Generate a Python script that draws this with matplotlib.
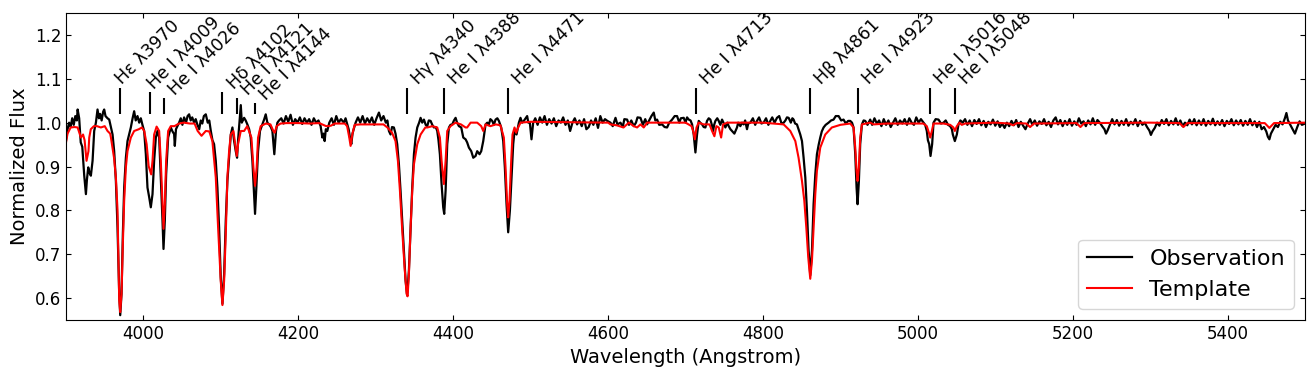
import numpy as np
import matplotlib
matplotlib.use("Agg")
import matplotlib.pyplot as plt

observation = [
    (3900, 0.960), (3902, 0.985), (3904, 1.000), (3906, 0.990), (3908, 1.010), (3910, 0.995),
    (3912, 1.015), (3914, 1.005), (3915, 1.030), (3917, 1.010), (3919, 0.955), (3921, 0.945),
    (3923.5, 0.880), (3925.7, 0.837), (3927, 0.870), (3928.7, 0.898), (3930.5, 0.885), (3932.1, 0.879),
    (3934.3, 0.913), (3936.4, 0.981), (3938.6, 1.000), (3940.7, 1.030), (3942.5, 1.010), (3944, 1.020),
    (3946, 1.005), (3948, 1.025), (3949.3, 1.030), (3951, 1.015), (3953.6, 1.010), (3955.8, 1.007),
    (3958, 0.990), (3960.1, 0.973), (3962.2, 0.935), (3964.4, 0.867), (3966.5, 0.761), (3968.7, 0.610),
    (3970, 0.561), (3971.7, 0.610), (3973.4, 0.746), (3975.1, 0.852), (3977.3, 0.920), (3979.4, 0.958),
    (3983.7, 0.989), (3986, 1.010), (3988, 1.026), (3990, 1.005), (3992.3, 1.015), (3994.5, 1.000),
    (3996.6, 1.010), (3998.7, 0.995), (4000.9, 0.981), (4003.1, 0.928), (4005.2, 0.852), (4007.4, 0.830),
    (4009.5, 0.807), (4011.7, 0.837), (4013.8, 0.913), (4016, 0.966), (4018.1, 0.981), (4020.3, 0.966),
    (4022.4, 0.875), (4024.6, 0.777), (4025.9, 0.712), (4027.6, 0.777), (4029.3, 0.882), (4031.9, 0.966),
    (4035.3, 0.989), (4037.5, 0.980), (4039.6, 0.974), (4040.5, 0.947), (4042, 0.985), (4043.9, 0.992),
    (4046, 1.000), (4048.2, 1.010), (4050.3, 0.995), (4052.5, 1.012), (4055, 1.000), (4057, 1.015),
    (4059, 1.019), (4061, 1.005), (4063, 1.012), (4065.4, 1.000), (4067.5, 1.008), (4069.7, 0.995),
    (4072, 0.985), (4074, 1.005), (4076, 0.998), (4078, 1.015), (4080.5, 1.019), (4083, 1.000),
    (4085, 1.005), (4087, 0.981), (4089.1, 0.960), (4091.2, 0.951), (4093.4, 0.913), (4095.5, 0.852),
    (4097.7, 0.761), (4099.8, 0.648), (4102, 0.587), (4104.2, 0.655), (4106.3, 0.777), (4108.4, 0.867),
    (4110.6, 0.920), (4112.8, 0.973), (4114.9, 0.989), (4117.1, 0.958), (4119.2, 0.935), (4120.9, 0.920),
    (4122.2, 0.960), (4123.5, 0.989), (4125.7, 1.040), (4127, 1.000), (4130, 1.011), (4132, 1.005),
    (4134.2, 0.996), (4136.5, 0.985), (4138.5, 0.966), (4140.7, 0.913), (4142.8, 0.837), (4144.1, 0.792),
    (4145.8, 0.852), (4148, 0.935), (4150.5, 0.981), (4153.6, 0.996), (4156, 1.008), (4157.9, 1.019),
    (4160, 1.000), (4162.2, 0.996), (4164.5, 0.990), (4166.5, 0.981), (4169.0, 0.928), (4171.2, 0.981),
    (4173, 1.000), (4175.1, 1.005), (4178, 1.010), (4181, 0.998), (4184, 1.015), (4187, 1.002),
    (4190, 1.018), (4193, 0.995), (4196, 1.008), (4199, 1.000), (4202, 1.012), (4205, 0.997),
    (4208, 1.010), (4211, 1.000), (4214, 1.008), (4217, 0.995), (4220, 1.010), (4223, 1.000),
    (4226, 1.005), (4228.8, 0.992), (4231, 0.966), (4232.5, 0.975), (4234, 0.958), (4235.5, 0.985),
    (4237.4, 0.981), (4240, 1.000), (4243, 1.010), (4246, 0.995), (4249, 1.015), (4252, 1.000),
    (4255, 1.008), (4258.9, 1.000), (4261, 1.010), (4263.2, 0.996), (4265, 0.985), (4266.7, 0.966),
    (4268.4, 0.951), (4270, 0.975), (4271.5, 0.985), (4274, 1.000), (4277, 1.012), (4280, 1.000),
    (4283, 1.015), (4286, 0.998), (4289, 1.010), (4292, 1.000), (4295, 1.012), (4298, 0.995),
    (4301, 1.010), (4304.1, 1.023), (4307, 1.005), (4310, 1.015), (4313, 1.000), (4315, 1.005),
    (4317, 0.981), (4319.1, 0.973), (4321, 0.990), (4323.4, 0.989), (4325.5, 0.975), (4327.7, 0.951),
    (4329.9, 0.905), (4332, 0.845), (4334.2, 0.777), (4336.3, 0.708), (4338.5, 0.640), (4340.6, 0.606),
    (4342.8, 0.663), (4345, 0.761), (4347.1, 0.852), (4349.3, 0.928), (4351.4, 0.966), (4353.6, 0.989),
    (4356, 1.000), (4357.9, 1.011), (4360, 1.000), (4362.2, 1.007), (4364.5, 0.995), (4366.5, 0.992),
    (4368.5, 1.005), (4370.8, 1.004), (4373, 0.995), (4375.1, 0.989), (4377.5, 0.990), (4379.4, 0.981),
    (4381, 0.960), (4382.8, 0.928), (4385, 0.860), (4387.1, 0.807), (4388.4, 0.792), (4390.2, 0.845),
    (4392.3, 0.951), (4394.5, 0.989), (4396.5, 0.995), (4398.8, 0.996), (4401, 1.005), (4403.1, 1.011),
    (4405, 1.000), (4407.4, 0.992), (4410.4, 0.989), (4413, 0.966), (4416, 0.962), (4418, 0.955),
    (4420.3, 0.943), (4423.3, 0.935), (4425.9, 0.920), (4428.9, 0.924), (4431, 0.935), (4434, 0.928),
    (4436.2, 0.935), (4438.8, 0.958), (4441.8, 0.996), (4444, 1.000), (4446.1, 0.996), (4448, 1.008),
    (4450.4, 1.004), (4452.5, 0.995), (4454.7, 1.007), (4457, 1.010), (4459, 1.004), (4462, 0.989),
    (4464.6, 0.958), (4466.7, 0.898), (4468.9, 0.814), (4471, 0.750), (4473.2, 0.799), (4475.3, 0.875),
    (4477.5, 0.951), (4479.2, 0.981), (4481.8, 0.973), (4484.8, 1.000), (4486.9, 1.011), (4489, 1.000),
    (4491.2, 1.004), (4493.5, 1.010), (4495.5, 1.015), (4497, 1.000), (4499, 1.000), (4501.1, 0.962),
    (4503.3, 1.000), (4506, 1.010), (4509, 0.995), (4512, 1.012), (4515, 1.000), (4518, 1.015),
    (4521, 0.995), (4524, 1.008), (4527, 0.998), (4530, 1.010), (4533, 0.992), (4536, 1.005),
    (4539, 1.000), (4542, 1.012), (4545, 0.995), (4548, 1.005), (4551, 0.981), (4554, 1.000),
    (4557, 1.010), (4560, 0.996), (4563, 1.005), (4566, 0.992), (4569, 1.008), (4572, 0.985),
    (4575, 0.990), (4578, 1.005), (4581, 0.995), (4584, 1.010), (4587, 0.988), (4590, 1.015),
    (4593, 1.000), (4596, 1.008), (4599, 1.004), (4603.1, 1.000), (4606, 0.992), (4609.6, 1.011),
    (4612, 0.996), (4616, 1.000), (4619, 0.990), (4621, 1.008), (4624.6, 1.007), (4627, 0.995),
    (4630, 1.005), (4633.2, 0.992), (4636, 1.000), (4638, 1.012), (4641.8, 1.011), (4645, 0.995),
    (4648, 1.008), (4650.4, 0.996), (4653, 1.005), (4656, 1.015), (4659, 1.023), (4661, 1.005),
    (4663.3, 1.007), (4666, 0.995), (4669.8, 0.996), (4673, 0.990), (4676.2, 0.989), (4679, 1.000),
    (4682.7, 1.007), (4686, 1.015), (4689.1, 1.015), (4692, 1.000), (4694, 1.010), (4697.7, 1.011),
    (4700, 1.000), (4702, 1.012), (4704.2, 1.007), (4706.5, 1.005), (4708.5, 0.996), (4710.6, 0.973),
    (4712.8, 0.932), (4714.9, 0.973), (4717.1, 1.004), (4719, 1.000), (4721.4, 0.996), (4723.5, 0.990),
    (4725.7, 0.989), (4727.8, 1.004), (4730, 1.010), (4732.1, 1.007), (4734, 0.995), (4735.6, 0.981),
    (4737, 0.995), (4738.6, 1.004), (4741, 1.010), (4742.9, 1.004), (4745, 0.995), (4747.2, 1.007),
    (4749, 1.000), (4751.5, 0.989), (4754, 1.000), (4755.8, 0.992), (4758, 0.985), (4760.1, 0.981),
    (4763.1, 0.975), (4766.5, 0.989), (4768, 1.000), (4770.8, 0.992), (4773, 1.000), (4775.1, 0.996),
    (4777, 1.005), (4779.4, 0.985), (4781, 0.998), (4783.7, 1.000), (4787, 1.010), (4790, 0.995),
    (4792.3, 1.004), (4795, 1.012), (4798, 0.998), (4800.9, 1.000), (4804, 1.010), (4807, 0.995),
    (4809.5, 1.004), (4812, 1.012), (4815, 1.000), (4818.1, 1.011), (4821, 1.015), (4824, 0.998),
    (4826.8, 1.000), (4829, 1.005), (4831, 1.012), (4833.2, 1.011), (4836, 1.000), (4838, 1.010),
    (4839.6, 1.007), (4841.5, 0.998), (4843.9, 0.996), (4846, 0.985), (4848.2, 0.973), (4850.4, 0.958),
    (4852.5, 0.920), (4854.7, 0.875), (4856.8, 0.799), (4859, 0.708), (4861.1, 0.652), (4863.3, 0.708),
    (4865.4, 0.814), (4867.6, 0.882), (4869.7, 0.928), (4872, 0.950), (4874, 0.966), (4876, 0.980),
    (4878.3, 0.989), (4881, 0.995), (4884.8, 1.000), (4888, 1.005), (4891.2, 1.007), (4894, 1.015),
    (4897.7, 1.015), (4901, 1.005), (4904.1, 1.007), (4907, 0.998), (4910, 1.004), (4912.7, 1.004),
    (4915, 1.000), (4917, 0.989), (4919.2, 0.928), (4920.9, 0.852), (4922.2, 0.814), (4923.9, 0.867),
    (4925.6, 0.951), (4927.8, 0.996), (4930, 1.005), (4932.1, 1.004), (4935, 0.995), (4938.5, 1.007),
    (4941, 0.995), (4944, 1.010), (4947.1, 0.998), (4950, 1.005), (4953, 0.992), (4956, 1.008),
    (4959, 0.995), (4962, 1.005), (4965, 0.990), (4968, 1.000), (4971, 1.010), (4974, 0.995),
    (4977, 1.005), (4980, 0.998), (4983, 1.008), (4986, 0.995), (4989, 1.010), (4992, 1.000),
    (4995, 0.995), (4998, 1.012), (5001, 1.000), (5004, 1.008), (5007.3, 1.000), (5009.5, 0.995),
    (5011.6, 0.981), (5013, 0.960), (5014.7, 0.951), (5016.4, 0.924), (5018.5, 0.951), (5020.3, 1.000),
    (5023, 1.008), (5026.7, 1.007), (5030, 0.998), (5033.2, 1.000), (5036, 1.005), (5039, 0.995),
    (5041.8, 0.992), (5044, 0.985), (5045.2, 0.973), (5047.8, 0.958), (5050.4, 0.973), (5052.5, 0.996),
    (5055, 1.005), (5058, 1.000), (5061, 1.008), (5064, 0.995), (5067, 1.005), (5070, 0.992),
    (5073, 1.006), (5076, 0.997), (5079, 1.008), (5082, 0.994), (5085, 1.004), (5088, 0.990),
    (5091, 1.002), (5094, 0.996), (5097, 1.007), (5100, 0.993), (5103, 1.003), (5106, 0.990),
    (5109, 0.998), (5112, 0.988), (5115, 1.000), (5118, 0.992), (5121, 1.004), (5124, 0.994),
    (5127, 1.006), (5130, 0.990), (5133, 1.002), (5136, 0.993), (5139, 0.985), (5142, 0.998),
    (5145, 1.008), (5148, 0.995), (5151, 1.005), (5154, 0.993), (5157, 1.003), (5160, 0.997),
    (5163, 1.008), (5166, 0.994), (5169, 1.002), (5172, 0.990), (5175, 1.005), (5178, 1.012),
    (5181, 0.996), (5184, 1.006), (5187, 0.992), (5190, 1.004), (5193, 0.995), (5196, 1.008),
    (5199, 0.993), (5202, 1.003), (5205, 0.995), (5208, 1.010), (5211, 0.998), (5214, 1.003),
    (5217, 0.992), (5220, 1.005), (5223, 0.996), (5226, 1.010), (5229, 0.995), (5232, 1.006),
    (5235, 1.000), (5238, 0.992), (5241, 0.985), (5243, 0.975), (5245, 0.982), (5248, 0.995),
    (5251, 1.008), (5254, 0.996), (5257, 1.006), (5260, 0.993), (5263, 1.004), (5266, 0.995),
    (5269, 1.008), (5272, 0.993), (5275, 1.002), (5278, 0.996), (5281, 1.008), (5284, 0.992),
    (5287, 1.004), (5290, 0.995), (5293, 1.000), (5296, 0.990), (5299, 0.982), (5301, 0.972),
    (5303, 0.980), (5306, 0.988), (5309, 1.000), (5312, 0.993), (5315, 1.006), (5318, 0.997),
    (5321, 1.008), (5324, 0.994), (5327, 1.004), (5330, 0.996), (5333, 1.010), (5336, 0.995),
    (5339, 1.005), (5342, 0.992), (5345, 1.000), (5348, 0.994), (5351, 1.007), (5354, 0.996),
    (5357, 1.008), (5360, 0.994), (5363, 1.005), (5366, 0.995), (5369, 1.008), (5372, 0.993),
    (5375, 1.004), (5378, 0.996), (5381, 1.009), (5384, 0.994), (5387, 1.003), (5390, 0.995),
    (5393, 1.006), (5396, 0.992), (5399, 1.004), (5402, 0.997), (5405, 1.008), (5408, 0.994),
    (5411, 1.005), (5414, 0.996), (5417, 1.006), (5420, 0.993), (5423, 1.004), (5426, 0.995),
    (5429, 1.008), (5432, 0.994), (5435, 1.003), (5438, 0.990), (5441, 1.002), (5444, 0.985),
    (5447, 0.990), (5450, 0.980), (5452, 0.968), (5454, 0.962), (5456, 0.975), (5459, 0.985),
    (5462, 0.995), (5465, 0.990), (5468, 1.002), (5471, 0.996), (5474, 1.010), (5476, 1.022),
    (5478, 1.005), (5481, 0.995), (5484, 0.985), (5487, 0.975), (5490, 0.990), (5493, 1.003),
    (5496, 0.995), (5500, 0.998),
]

# model template spectrum
template = [
    (3900, 0.955), (3902, 0.975), (3906, 0.989), (3911, 0.990), (3915, 0.989), (3919.2, 0.966),
    (3922, 0.973), (3924, 0.960), (3926.5, 0.913), (3929, 0.935), (3930, 0.966), (3932, 0.985),
    (3936, 0.992), (3940, 0.992), (3945, 0.989), (3950, 0.992), (3953.6, 0.981), (3957, 0.975),
    (3958, 0.966), (3962, 0.920), (3964.4, 0.875), (3966.5, 0.801), (3968.7, 0.595), (3970, 0.568),
    (3971.7, 0.610), (3973.4, 0.724), (3975.1, 0.822), (3977.3, 0.898), (3979.4, 0.935), (3983.7, 0.966),
    (3988, 0.981), (3994, 0.985), (3998, 0.989), (4001, 0.981), (4004.1, 0.951), (4006.7, 0.901),
    (4010, 0.882), (4011.7, 0.913), (4013.8, 0.973), (4017, 0.991), (4020.3, 0.981), (4022.4, 0.913),
    (4024.6, 0.814), (4025.9, 0.758), (4027.6, 0.814), (4029.3, 0.913), (4031.9, 0.981), (4035.3, 0.992),
    (4040, 0.992), (4046, 0.998), (4052, 1.000), (4060, 0.998), (4066, 0.998), (4070, 0.981),
    (4075, 0.970), (4080.5, 0.981), (4085, 0.980), (4089, 0.958), (4093.4, 0.875), (4096.4, 0.761),
    (4099.8, 0.640), (4102, 0.584), (4104.2, 0.640), (4106.3, 0.746), (4108.4, 0.875), (4110.6, 0.935),
    (4112.8, 0.973), (4116.2, 0.981), (4117.9, 0.958), (4120.5, 0.924), (4122.2, 0.951), (4125.7, 0.981),
    (4130, 0.981), (4134, 0.992), (4139.4, 0.966), (4142, 0.898), (4144.1, 0.856), (4146.2, 0.898),
    (4148, 0.966), (4151.4, 0.992), (4158, 0.998), (4164, 0.996), (4167.8, 0.981), (4169.5, 0.977),
    (4172, 0.992), (4177, 0.998), (4185, 0.999), (4200, 0.999), (4215, 0.998), (4227, 0.999),
    (4236, 0.992), (4242, 0.993), (4247, 0.998), (4260, 0.998), (4263, 0.992), (4265.8, 0.966),
    (4267.5, 0.947), (4269.7, 0.973), (4272.7, 0.995), (4280, 0.996), (4300, 0.996), (4310, 0.996),
    (4315, 0.989), (4321, 0.977), (4325.5, 0.958), (4328.6, 0.913), (4331.2, 0.845), (4334.2, 0.754),
    (4337.2, 0.671), (4339.8, 0.610), (4341.1, 0.604), (4342.8, 0.655), (4345, 0.761), (4347.1, 0.845),
    (4349.3, 0.905), (4353.6, 0.951), (4357.9, 0.973), (4364, 0.989), (4366.5, 0.989), (4373, 0.992),
    (4379.4, 0.989), (4382.8, 0.966), (4385, 0.913), (4388, 0.860), (4390.2, 0.913), (4392.3, 0.981),
    (4396.5, 0.992), (4403, 1.000), (4410, 0.996), (4416, 0.989), (4418, 0.989), (4422.5, 1.000),
    (4431, 1.000), (4436.2, 0.992), (4438.8, 0.981), (4441.8, 0.996), (4448, 0.992), (4455, 0.996),
    (4461, 0.994), (4465.4, 0.966), (4467.6, 0.898), (4469.7, 0.814), (4471, 0.784), (4472.7, 0.822),
    (4474.9, 0.913), (4476.6, 0.973), (4479.2, 0.989), (4481.3, 0.977), (4483.9, 0.989), (4487, 1.000),
    (4500, 1.002), (4600, 1.000), (4603.1, 0.996), (4611, 0.994), (4620, 0.989), (4626.8, 1.000),
    (4633.2, 0.992), (4637.5, 0.989), (4641.8, 0.996), (4646.1, 0.989), (4650.4, 1.000), (4660, 1.000),
    (4700, 1.000), (4707.8, 0.992), (4710, 0.980), (4712, 0.962), (4714.2, 0.989), (4717, 1.000),
    (4723.5, 0.996), (4731, 0.996), (4734.3, 0.981), (4737.3, 0.969), (4739.9, 0.992), (4742.9, 0.989),
    (4746, 0.966), (4748.5, 0.996), (4754, 1.000), (4800, 1.000), (4826.7, 0.996), (4835.3, 0.981),
    (4841.8, 0.958), (4846, 0.920), (4850.4, 0.867), (4853.4, 0.822), (4856, 0.761), (4858.5, 0.693),
    (4861.1, 0.644), (4863.3, 0.686), (4865.4, 0.761), (4867.6, 0.837), (4869.7, 0.890), (4874, 0.943),
    (4880.5, 0.973), (4889, 0.989), (4900, 0.995), (4912.7, 0.998), (4917, 0.989), (4919.2, 0.943),
    (4920.9, 0.890), (4922.2, 0.867), (4923.9, 0.898), (4925.6, 0.966), (4927.8, 0.996), (4938.5, 1.000),
    (4943, 0.996), (4960, 0.998), (5007, 0.998), (5011.6, 0.992), (5014.3, 0.977), (5016, 0.966),
    (5018.1, 0.981), (5020.3, 0.998), (5033, 0.998), (5041.8, 0.995), (5046, 0.989), (5047.8, 0.981),
    (5050.4, 0.992), (5053.8, 1.000), (5056.8, 0.995), (5061, 0.998), (5100, 1.000), (5118, 0.998),
    (5123, 0.994), (5128, 0.999), (5140, 0.998), (5145, 0.990), (5150, 0.998), (5205, 0.999),
    (5210, 0.990), (5215, 0.999), (5300, 1.000), (5338, 0.999), (5343, 0.990), (5348, 0.999),
    (5448, 0.999), (5454, 0.988), (5460, 0.999), (5500, 1.000),
]

# identified lines
line_wave = [3970, 4009, 4026, 4102, 4121, 4144, 4340, 4388, 4471, 4713, 4861, 4923, 5016, 5048]
line_label = ["Hε λ3970", "He I λ4009", "He I λ4026", "Hδ λ4102", "He I λ4121", "He I λ4144",
              "Hγ λ4340", "He I λ4388", "He I λ4471", "He I λ4713", "Hβ λ4861", "He I λ4923",
              "He I λ5016", "He I λ5048"]
line_top = [1.08, 1.07, 1.057, 1.07, 1.057, 1.045, 1.08, 1.08, 1.08, 1.08, 1.08, 1.08, 1.08, 1.08]

# horizontal nudge of each label (points)
label_dx = [1, 2.5, 8, 8, 8, 8, 8, 8, 8, 8, 8, 8, 8, 8]

obs = np.array(sorted(observation))
tmpl = np.array(sorted(template))

fig = plt.figure(figsize=(13.15, 3.78), dpi=100)
ax = fig.add_axes([0.0502, 0.1534, 0.9422, 0.8122])

ax.plot(obs[:, 0], obs[:, 1], color="black", lw=1.6, label="Observation")
ax.plot(tmpl[:, 0], tmpl[:, 1], color="red", lw=1.5, label="Template")

for w, lab, top, dx in zip(line_wave, line_label, line_top, label_dx):
    ax.vlines(w, 1.02, top, color="black", lw=1.5)
    ax.annotate(lab, xy=(w, top), xytext=(dx, 1.5), textcoords="offset points",
                rotation=45, rotation_mode="anchor", ha="left", va="baseline",
                fontsize=12.5, clip_on=True)

ax.set_xlim(3900, 5500)
ax.set_ylim(0.55, 1.25)
ax.set_xticks(np.arange(4000, 5401, 200))
ax.set_yticks(np.arange(0.6, 1.21, 0.1))
ax.tick_params(direction="in", top=True, right=True, labelsize=12)
ax.set_xlabel("Wavelength (Angstrom)", fontsize=14)
ax.set_ylabel("Normalized Flux", fontsize=14)
ax.legend(loc="lower right", fontsize=16)

plt.savefig("out.png", dpi=100)
